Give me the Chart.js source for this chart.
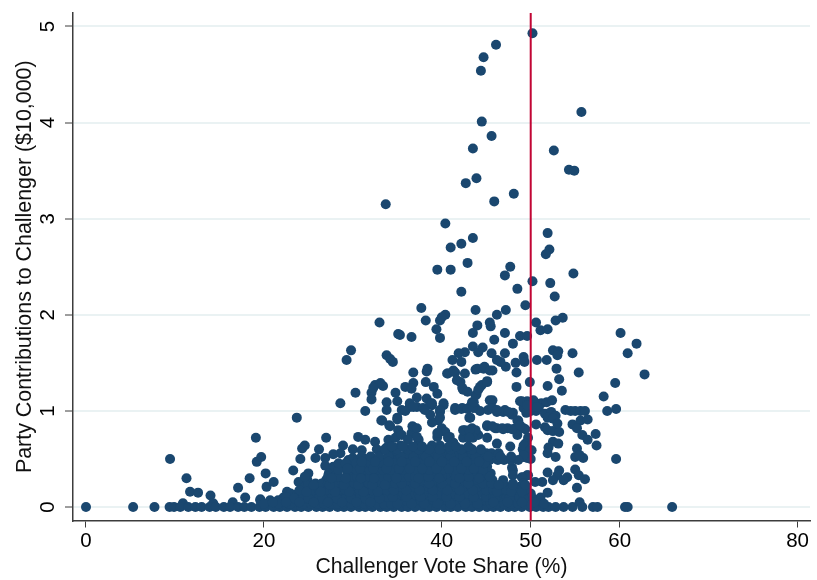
<!DOCTYPE html>
<html><head><meta charset="utf-8">
<style>html,body{margin:0;padding:0;background:#fff}canvas{display:block}</style>
<script src="https://cdn.jsdelivr.net/npm/chart.js@4"></script>
</head><body><canvas id="c" width="817" height="580"></canvas>
<script>
const xTitle = "Challenger Vote Share (%)";
const yTitle = "Party Contributions to Challenger ($10,000)";
const xTickValues = [0,20,40,50,60,80];
const yTickValues = [0,1,2,3,4,5];
const cutoffShare = 50;
const cutoffSpan = [-0.14,5.14];

const upperPoints = [[50.2,4.93],[46.1,4.81],[44.7,4.68],[44.4,4.54],[44.5,4.01],[45.6,3.86],[43.5,3.73],[52.6,3.71],[55.7,4.11],[54.3,3.51],[54.9,3.5],[43.9,3.42],[42.7,3.37],[48.1,3.26],[45.9,3.18],[33.7,3.15],[40.4,2.95],[51.9,2.85],[43.5,2.8],[42.2,2.74],[41,2.7],[52.1,2.68],[51.7,2.63],[42.9,2.54],[39.5,2.47],[41,2.47],[47.7,2.5],[47.1,2.41],[54.8,2.43],[50.2,2.35],[52.2,2.33],[48.5,2.27],[42.2,2.24],[52.7,2.19],[49.4,2.1],[37.7,2.07],[43.8,2.05],
[38.2,1.94],[39.8,1.94],[40.4,2.0],[40,1.975],[44,1.89],[43.5,1.81],[46.2,2.0],[47.2,2.05],[45.4,1.92],[45.5,1.88],[47.1,1.81],[45.9,1.74],[48.8,1.78],[49.6,1.78],[48,1.7],[50.6,1.92],[51.1,1.84],[51.9,1.85],[52.8,1.94],[53.6,1.97],[60.1,1.81],[61.9,1.7],[60.9,1.6],[62.8,1.38],[59.5,1.29],[58.2,1.15],[58.6,1.0],[59.6,1.02],[59.6,0.5],[57.4,0.64],[57.3,0.76],[54.7,1.6],[55.4,1.4],[52.5,1.63],[53.1,1.62],[53,1.58],[50.7,1.53],[51.8,1.53],[52.9,1.44],[53.2,1.33],[53.5,1.21],[51.9,1.26],[49.9,1.3],[48.4,1.25]];

const middlePoints = [[49.2,1.56],[49.3,1.51],[48.3,1.5],[48.4,1.4],[47.2,1.46],[46.6,1.51],[45.6,1.6],[47.1,1.6],[43.5,1.67],[44.1,1.61],[44.6,1.66],[42.6,1.61],[41.9,1.6],[41.2,1.53],[42.2,1.51],[40.7,1.39],[42.6,1.39],[41.5,1.4],[43.8,1.43],[44.7,1.44],[45.7,1.42],[46.2,1.53],[42.1,1.3],[42.4,1.22],[44.3,1.25],[45.1,1.31],[43.9,1.17],[43.4,1.09],[36.8,1.4],[38.4,1.44],[38.3,1.41],[36.8,1.29],[38.2,1.3],[35.9,1.25],[36.6,1.23],[39.1,1.25],[39.5,1.18],[37.2,1.14],[38.3,1.13],[38.9,1.06],[35.3,1.79],[36.6,1.77],[39.4,1.85],[39.8,1.76],
[48.8,1.1],[49.6,1.1],[50.2,1.1],[50.6,1.08],[51.2,1.08],[51.8,1.09],[52.4,1.11],[50,1.0],[50.6,1.0],[49.5,0.98],[49.2,1.03],[50.9,1.03],[51.6,0.97],[52.3,0.99],[52.8,0.95],[51.9,0.93],[52.5,0.92],[53.9,1.01],[54.5,1.0],[55,1],[55.6,1],[56.1,1],[50.6,0.86],[51.6,0.83],[51.9,0.8],[52.5,0.79],[53.2,0.78],[53,0.87],[54.7,0.86],[55.6,0.9],[56.4,0.91],[55.2,0.82],[55.8,0.75],[56.4,0.7],[49.7,0.72],[49.4,0.66],[50.1,0.59],[49.1,0.6],[49.2,0.52],[50,0.5],[52.5,0.68],[52,0.62],[51.9,0.56],[52.8,0.52],[53.1,0.66],[55.2,0.61],[55,0.52],[55.9,0.51],[55.5,0.54],
[36.4,1.04],[37.2,1.04],[37.9,1.03],[38.7,1.08],[39.8,0.99],[40.2,1.06],[39.6,0.9],[38.9,0.88],[36.8,0.83],[36.6,0.77],[37.4,0.7],[40,0.82],[39.5,0.73],[40.9,0.73],[40.4,0.78],[38.9,0.64],[39.8,0.64],[41.2,0.66],[42.6,0.8],[43.4,0.82],[42.4,0.72],[43.4,0.73],[44.1,0.75],[45.1,0.72],[46.2,0.66],[47.7,0.63],[41.5,1.03],[42.3,1.03],[43,1.03],[43.8,1.03],[44.3,1.0],[43.1,0.93],[45.4,1.11],[45.2,1.01],[46.2,0.99],[47.1,1.01],[48,0.98],[48.6,0.9],[45.1,0.84],[46,0.82],[46.9,0.81],[48.3,0.82],[49.4,0.81],[48.5,0.75]];

const clusterPoints = [[38.9,1.08],[40.2,1.08],[39.8,1.01],[39.8,0.93],[38.7,0.96],[36.4,1.08],[35.5,1.01],[38.1,1.01],[33.2,0.9],[34.1,0.85],[35,0.93],[36.7,0.84],[37.2,0.82],[37.2,0.73],[39.5,0.77],[40.7,0.72],[41.3,0.67],[42.4,0.8],[43.8,0.8],[43.5,0.72],[43.1,0.8],[43.1,0.72],[45.1,0.85],[46.2,0.82],[47.4,0.82],[48.5,0.8],[49.2,0.82],[45.7,0.84],[46.8,0.82],[47.9,0.81],[49.2,0.64],[49.9,0.59],[49.6,0.51],[49.2,0.54],[47.9,0.41],[49.2,0.31],[49.7,0.33],[45.7,1.11],[45.7,1.03],[46.9,0.99],[47.9,0.96],[48.5,0.9],[48.8,0.85],[46.2,1.01],[47.5,0.99],[41.5,1.01],[42.2,1.02],[42.9,1.02],[43.2,0.93],[43.5,1.03],[43.6,1.09],[43.8,1.16],[44.5,1.27],[45.1,1.3],[44.1,1.22],[40.6,1.39],[41.3,1.42],[41.7,1.32],[42.3,1.24],[42.9,1.2],[44,1.44],[44.8,1.46],[45.4,1.42],[49,1.1],[50.3,1.11],[49.9,1.01],[49.6,0.99],[50.3,1.04],[49.6,1.06],[50.7,1.04]];

const leftPoints = [[0,0],[5.3,0],[7.7,0],[9.4,0],[9.9,0],[9.45,0.5],[11.3,0.3],[11.7,0.16],[12.6,0.15],[14,0.12],[10.9,0.04],[19.1,0.72],[19.7,0.52],[19.2,0.47],[18.4,0.3],[17.1,0.2],[20.2,0.35],[20.3,0.21],[21.1,0.26],[17.9,0.1],[19.6,0.08],[16.5,0.05],[14.3,0.04],[23.7,0.93],[24.6,0.64],[24.3,0.61],[24.1,0.5],[23.3,0.38],[23.9,0.26],[22.6,0.16],[22.2,0.1],[26.2,0.6],[27,0.72],[28.9,0.64],[28.6,0.56],[27.8,0.55],[26.9,0.51],[25.8,0.51],[26.9,0.43],[27.8,0.42],[28.8,0.42],[30,0.6],[30.6,0.73],[31.4,0.7],[32.5,0.68],[30,0.51],[31,0.59],[31.4,0.46],[32.5,0.4],[29.5,0.49],[32.7,0.6],
[28.6,1.08],[31.4,1],[30.3,1.19],[32.1,1.19],[32.1,1.12],[32.5,1.27],[33.4,1.26],[33.1,1.29],[32.3,1.24],[33.8,1.58],[34.5,1.51],[34.2,1.54],[29.3,1.53],[29.8,1.63],[33,1.92],[35.1,1.8],[34.8,1.19],[33.8,1.09],[35,1.1],[33.8,1.01],[35.9,1],[36.8,1.04],[35,0.91],[33.3,0.9],[34.2,0.84],[35.1,0.8],[34,0.7],[34.8,0.72],[35.5,0.75],[36.2,0.7],[33.8,0.62],[34.6,0.62],[35.4,0.64],[36.1,0.6],[36.9,0.62],[37.6,0.6],[38.3,0.58],[34.2,0.54],[35,0.55],[35.8,0.53],[36.6,0.54],[37.4,0.52]];

const lowerRightPoints = [[51.9,0.36],[53.2,0.38],[55,0.39],[53,0.33],[54.1,0.31],[55.4,0.33],[56.1,0.29],[55.2,0.2],[52.5,0.28],[53.7,0.28],[51.3,0.26],[50.5,0.26],[49.6,0.33],[49,0.31],[46.9,0.28],[48,0.38],[48,0.33],[51.9,0.15],[51.1,0.1],[53.7,0],[54.7,0],[55.5,0.05],[55.8,0],[57,0],[57.5,0],[60.6,0],[60.9,0],[65.9,0]];

const denseLevels = [0,0.07,0.14,0.21,0.28,0.35,0.42,0.49,0.56,0.035,0.105,0.175,0.245,0.315,0.385,0.455,0.525,0.6,0.63,0.09,0.16,0.23,0.3,0.05,0.4,0.47];
const row0 = [10.6,11.5,12.3,13,13.9,14.6,15.5,16.2,17.1,17.8,18.6,19.5,20.2,21.1,21.8,22.6,23.5,24.2,25,25.9,26.6,27.4,28.3,29,29.8,30.7,31.4,32.2,33.1,33.8,34.6,35.5,36.2,37,37.9,38.6,39.4,40.3,41,41.8,42.7,43.4,44.2,45.1,45.8,46.6,47.5,48.2,49,49.9,50.6,51.4,52,52.8];
const row1 = [19.6,20.7,21.6,22.3,23.2,24,24.7,25.6,26.3,27.1,28,28.7,29.5,30.4,31.1,31.9,32.8,33.5,34.3,35.2,35.9,36.7,37.6,38.3,39.1,40,40.7,41.5,42.4,43.1,43.9,44.8,45.5,46.3,47.2,47.9,48.7,49.6,50.3,51.1];
const row2 = [23,23.8,24.5,25.4,26.1,26.9,27.8,28.5,29.3,30.2,30.9,31.7,32.6,33.3,34.1,35,35.7,36.5,37.4,38.1,38.9,39.8,40.5,41.3,42.2,42.9,43.7,44.6,45.3,46.1,47,47.7,48.5,49.4,50];
const row3 = [24.6,25.5,26.3,27.1,27.9,28.9,29.7,30.4,31.3,32,32.8,33.7,34.4,35.2,36.1,36.8,37.6,38.5,39.2,40,40.9,41.6,42.4,43.3,44,44.8,45.7,46.4,47.2,48.1,48.8,49.5];
const row4 = [24.9,27,27.9,28.9,29.7,30.5,31.4,32.1,32.9,33.8,34.5,35.3,36.2,36.9,37.7,38.6,39.3,40.1,41,41.7,42.5,43.4,44.1,44.9,45.7];
const row5 = [25,27.3,28.2,29.4,30.3,31,31.8,32.7,33.4,34.2,35.1,35.8,36.6,37.5,38.2,39,39.9,40.6,41.4,42.3,43,43.8,44.7,45.5];
const row6 = [28,29,29.9,30.8,31.7,32.4,33,33.8,34.7,35.4,36.2,37.1,37.8,38.6,39.5,40.2,41,41.9,42.6,43.4,44.3,45.1];
const row7 = [29.8,30.6,31.4,32.2,32.9,33.4,34.3,35,35.8,36.7,37.4,38.2,39.1,39.8,40.6,41.5,42.2,43,43.9,44.6,45.4,46.3,47,47.8,48.6];
const row8 = [36.1,36.9,37.8,38.5,39.3,40.2,40.9,41.7,42.6,43.3,44.1,45,45.6,46.4];
const row9 = [20,21.6,22.8,23,24.5,25.3,26,26.8,27.6,28.3,29,29.8,30.6,31.3,32,32.8,33.5,34.3,35,36.6,38,39.5,41,42.6,44,45.5,46.2,47,47.8,48.6,49.3,50,51.5];
const row10 = [22.5,24,25.5,26.2,27,27.7,28.5,29.2,30,30.8,31.6,32.3,33,33.8,34.5,36,37.6,39,40.5,42,43.6,45,45.8,46.5,47.3,48,48.7,49.4,50.1];
const row11 = [24,25.5,26.2,27,27.8,28.6,29.2,30,30.8,31.5,32.2,33,33.8,34.6,36,37.5,39,40.6,42,43.5,45,45.8,46.6,47.3,48,48.7,49.3];
const row12 = [25,25.8,26.5,27.2,28,28.8,29.5,30.2,31,31.8,32.6,33.3,34,34.8,35.5,37,38.6,40,41.5,43,44.6,45.6,46.8,48,49.2];
const row13 = [24.6,27.2,28.4,29.8,30.5,31.2,31.9,32.6,33.3,34,34.8,35.6,36.3,37,38.5,40,41.6,43,44.4,45.4];
const row14 = [28.4,29.6,30.4,31.2,31.9,32.6,33.4,34.2,35.6,37,38.6,40,41.5,43,44.6];
const row15 = [28.4,29.2,30.4,31.2,32,32.8,33.4,34.8,36.2,37.6,39,40.5,42,43.4,44.8];
const row16 = [31,32,33,34,35.4,36.8,38.2,39.6,41,42.4,43.8,45.2,46.6,47.8];
const row17 = [33.6,35,36.2,37.4,38.6,39.8,41,42.2,43.4,44.4];
const row18 = [34.4,35.6,36.8,37.8,40.8,41.6,43];
const row19 = [23.4,25,26.6,28.2,29.8,31.4,33,46,47.6,49.2];
const row20 = [24.8,26.4,28,29.6,31.2,32.8,46.2,47.8,49];
const row21 = [25.6,27.4,29,30.6,32.2,33.6,46.4,48,49.4];
const row22 = [27.6,29.2,30.9,32.4,34.9,37.4,39.7,42,44.2];
const row23 = [21,22.5,24,25.6,27.2,28.8,30.4,32,45.8,47.4,49,50.4];
const row24 = [29.4,30.8,32.3,33.8,35.2,36.4,37.8,39.4,40.8,42.2,43.6];
const row25 = [31,32.5,34,35.5,37,38.6,40,41.4,42.8,44.2];
const denseRows = [row0,row1,row2,row3,row4,row5,row6,row7,row8,row9,row10,row11,row12,row13,row14,row15,row16,row17,row18,row19,row20,row21,row22,row23,row24,row25];

const scatterData = [...upperPoints,...middlePoints,...clusterPoints,...leftPoints,...lowerRightPoints].map(p=>({x:p[0],y:p[1]}));
denseRows.forEach((r,i)=>r.forEach(x=>scatterData.push({x:x,y:denseLevels[i]})));

const axisColor = "#3c3c3c";
const gridColor = "#eaf2f3";
new Chart(document.getElementById("c"),{
  type:"scatter",
  data:{datasets:[
    {type:"line",data:cutoffSpan.map(y=>({x:cutoffShare,y:y})),borderColor:"#c10534",borderWidth:2,pointRadius:0,order:0,clip:false},
    {data:scatterData,backgroundColor:"#1a476f",borderWidth:0,pointRadius:5,order:1}
  ]},
  options:{
    responsive:false,animation:false,
    layout:{padding:{top:13,right:7,left:0,bottom:0}},
    plugins:{legend:{display:false},tooltip:{enabled:false}},
    scales:{
      x:{type:"linear",min:-1.46,max:81.4,
        afterBuildTicks:s=>{s.ticks=xTickValues.map(v=>({value:v}));},
        afterFit:s=>{s.height=59.5;s.paddingLeft=0;s.paddingRight=0;},
        grid:{drawOnChartArea:false,tickLength:7,tickColor:axisColor,tickWidth:1},
        border:{color:axisColor,width:1.5},
        ticks:{autoSkip:false,maxRotation:0,minRotation:0,color:"#000",padding:2,font:{family:"Liberation Sans",size:20.5}},
        title:{display:true,text:xTitle,color:"#111",padding:{top:0,bottom:0},font:{family:"Liberation Sans",size:21.2}}
      },
      y:{type:"linear",min:-0.14,max:5.14,
        afterBuildTicks:s=>{s.ticks=yTickValues.map(v=>({value:v}));},
        afterFit:s=>{s.width=73;s.paddingTop=0;s.paddingBottom=0;},
        grid:{color:gridColor,lineWidth:2,tickLength:8,tickColor:axisColor,tickWidth:1},
        border:{color:axisColor,width:1.5},
        ticks:{autoSkip:false,minRotation:90,maxRotation:90,crossAlign:"center",color:"#000",padding:11,font:{family:"Liberation Sans",size:20.5}},
        title:{display:true,text:yTitle,color:"#111",padding:{top:12,bottom:0},font:{family:"Liberation Sans",size:21.4}}
      }
    }
  }
});
</script></body></html>
